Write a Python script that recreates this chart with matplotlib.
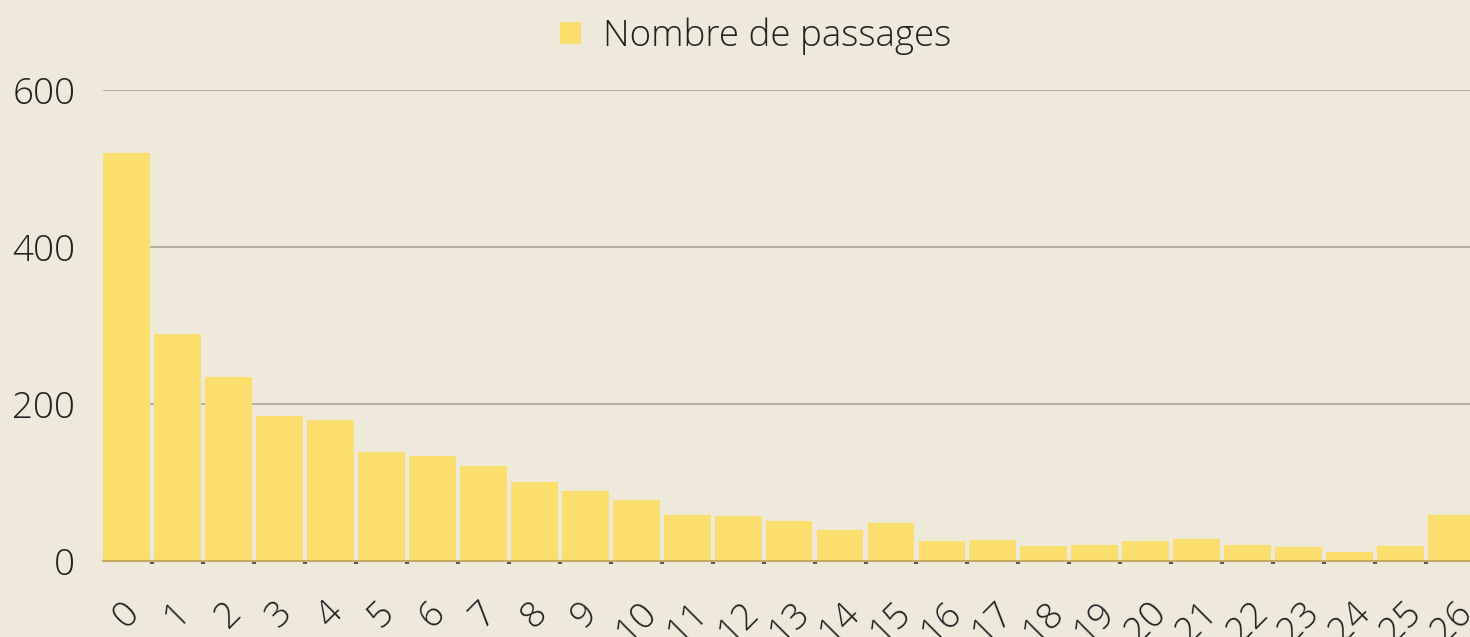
import numpy as np
import matplotlib
matplotlib.use('Agg')
import matplotlib.pyplot as plt
from matplotlib.patches import Patch

plt.rcParams['font.family'] = ['Open Sans', 'DejaVu Sans']
plt.rcParams['font.weight'] = 'light'

# data
categories = [str(i) for i in range(27)]
passages = [520, 289, 234, 185, 180, 139, 134, 121, 101, 89, 78, 59, 57, 51,
            39, 48, 25, 27, 19, 20, 25, 28, 20, 18, 11, 19, 59]
y_ticks = [0, 200, 400, 600]

bg = '#EFE9DC'
bar_color = '#FBDE6B'

fig = plt.figure(figsize=(14.7, 6.37), dpi=100)
fig.patch.set_facecolor(bg)
ax = fig.add_axes([103 / 1470, 1 - 561 / 637, 1 - 103 / 1470, 471 / 637])
ax.set_facecolor(bg)

x = np.arange(len(categories))
ax.bar(x, passages, width=0.92, color=bar_color, zorder=3)

ax.set_xlim(-0.46, 26.36)
ax.set_ylim(0, 600)
ax.set_yticks(y_ticks)
ax.set_yticklabels([str(v) for v in y_ticks])
ax.grid(axis='y', color='#B5B0A2', linewidth=1.4, zorder=0)
ax.set_axisbelow(True)

for s in ['top', 'right', 'left']:
    ax.spines[s].set_visible(False)
ax.spines['bottom'].set_color('#C9A95A')
ax.spines['bottom'].set_linewidth(1.5)
ax.spines['bottom'].set_zorder(4)

ax.set_xticks(x)
ax.set_xticklabels(categories, rotation=45, ha='center', va='top')
ax.set_xticks(x[:-1] + 0.5, minor=True)
ax.tick_params(axis='x', which='major', length=0, pad=24, labelsize=26.5, labelcolor='#222222')
ax.tick_params(axis='x', which='minor', length=2.5, width=3, color='#555555', direction='out')
ax.tick_params(axis='y', length=0, pad=20, labelsize=26.5, labelcolor='#222222')

handles = [Patch(facecolor=bar_color, label='Nombre de passages')]
fig.legend(handles=handles, loc='upper center', bbox_to_anchor=(0.514, 1.025),
           frameon=False, fontsize=26.5, handlelength=0.55, handleheight=0.55,
           handletextpad=0.6, labelcolor='#222222')

fig.savefig('out.png', dpi=100, facecolor=bg)
